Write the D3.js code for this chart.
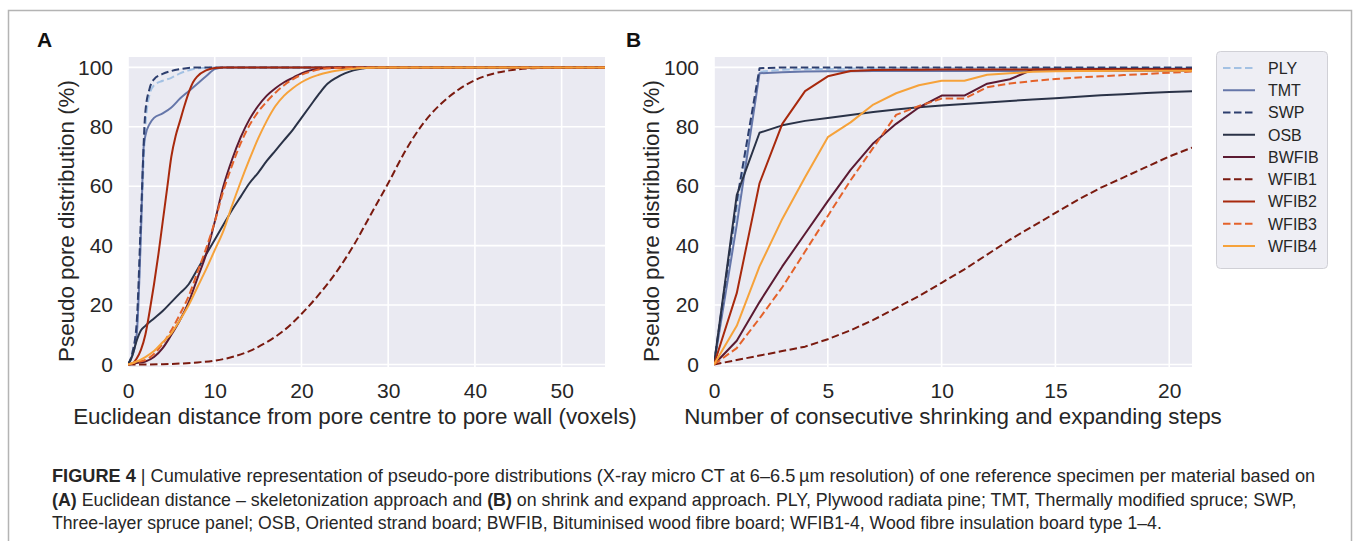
<!DOCTYPE html>
<html>
<head>
<meta charset="utf-8">
<script src="https://cdn.jsdelivr.net/npm/d3@7"></script>
<style>
  html, body { margin: 0; padding: 0; background: #fff; }
  svg { display: block; }
  text { font-family: "Liberation Sans", Arial, Helvetica, sans-serif; }
</style>
</head>
<body>
<svg id="fig" width="1356" height="541"></svg>
<script>
// ---- materials (legend order) ----
const materials = ["PLY", "TMT", "SWP", "OSB", "BWFIB", "WFIB1", "WFIB2", "WFIB3", "WFIB4"];
const colours   = ["#a3c1e3", "#6576a9", "#2d3e6e", "#2a3247", "#5b1a32", "#7a1a0f", "#a8290d", "#e4622a", "#f6a23a"];
const dashed    = [true, false, true, false, false, true, false, true, false];

// ---- panel A: Euclidean distance (voxels) vs cumulative share (%) ----
const PLY_A   = [[0,0],[0.5,3],[1,10],[1.5,45],[2,80],[2.5,91],[3,94],[4,95.5],[5,96.5],[6,98],[7,99],[8,99.7],[10,100],[55,100]];
const TMT_A   = [[0,0],[0.5,3],[1,10],[1.5,45],[1.8,73],[2,77],[2.5,81],[3,83],[4,84.5],[5,86.5],[6,89.5],[7,92],[8,94.5],[9,97],[10,99.4],[11,100],[55,100]];
const SWP_A   = [[0,0],[0.5,4],[1,14],[1.5,50],[2,85],[2.5,93],[3,96],[4,97.8],[5,98.8],[6,99.4],[8,100],[55,100]];
const OSB_A   = [[0,0],[0.5,3],[1,8],[1.5,11.5],[2,13],[3,15.5],[4,18],[5,21],[6,24],[7,27],[8,32],[9,37],[10,42],[11,47],[12,52],[13,56.5],[14,61],[15,64.5],[16,68.5],[17,72],[18,75.5],[19,79],[20,83],[21,87],[22,91],[23,94.5],[24,96.5],[25,98],[26,99],[27,99.6],[28,100],[55,100]];
const BWFIB_A = [[0,0],[1,0.5],[2,1],[3,2.5],[4,5.5],[5,10],[6,15],[7,21],[8,29],[9,37],[10,48],[11,60],[12,69],[13,76.5],[14,82.5],[15,87],[16,90.5],[17,93],[18,95],[19,96.5],[20,98],[21,99],[22,99.5],[24,100],[55,100]];
const WFIB1_A = [[0,0],[2,0],[4,0.1],[6,0.3],[8,0.7],[10,1.3],[12,2.5],[14,4.5],[16,7.5],[18,11.5],[20,17],[22,23.5],[24,31],[26,40],[28,50.5],[30,61],[32,72],[34,81],[36,87.5],[38,92.3],[40,95.7],[42,97.8],[44,99],[46,99.6],[48,99.9],[50,100],[55,100]];
const WFIB2_A = [[0,0],[0.5,0.3],[1,2],[1.5,5],[2,10],[2.5,18],[3,27],[3.5,37],[4,48],[4.5,59],[5,70],[5.5,77],[6,82],[6.5,87],[7,91.5],[7.5,95],[8,97],[9,99],[10,99.8],[11,100],[55,100]];
const WFIB3_A = [[0,0],[1,0.8],[2,1.5],[3,3.5],[4,7],[5,11.5],[6,17],[7,23],[8,31],[9,39],[10,48],[11,58.5],[12,67],[13,74.5],[14,80.5],[15,85],[16,88.5],[17,91.5],[18,94],[19,96],[20,97.5],[21,98.5],[22,99.3],[24,99.8],[26,100],[55,100]];
const WFIB4_A = [[0,0],[1,1],[2,2.5],[3,4.5],[4,7.5],[5,10.5],[6,15],[7,20],[8,26],[9,32],[10,38.5],[11,45],[12,53.5],[13,61.5],[14,69],[15,76],[16,82],[17,87],[18,90.5],[19,93],[20,95],[21,96.5],[22,97.5],[23,98.3],[24,98.9],[25,99.3],[27,99.8],[29,100],[55,100]];

// ---- panel B: shrink/expand steps vs cumulative share (%) ----
const stepsB  = [0,1,2,3,4,5,6,7,8,9,10,11,12,13,14,15,16,17,18,19,20,21];
const PLY_B   = [0,52,98.5,99.2,99.4,99.5,99.6,99.6,99.7,99.7,99.7,99.7,99.7,99.7,99.7,99.7,99.7,99.7,99.7,99.7,99.7,99.7];
const TMT_B   = [0,47,98,98.4,98.6,98.7,98.7,98.8,98.8,98.8,98.8,98.8,98.8,98.8,98.8,98.8,98.8,98.8,98.8,98.8,98.8,98.8];
const SWP_B   = [0,55,99.7,100,100,100,100,100,100,100,100,100,100,100,100,100,100,100,100,100,100,100];
const OSB_B   = [0,57,78,80.5,82,83,84,85,85.8,86.6,87.2,87.7,88.2,88.7,89.2,89.6,90.1,90.6,91,91.4,91.7,92];
const BWFIB_B = [0,8,21,33,44,55,65.5,74.5,81,86.5,90.5,90.5,94.5,96,99.3,99.4,99.4,99.5,99.5,99.5,99.5,99.5];
const WFIB1_B = [0,1.5,3,4.5,6,8.5,11.5,15,19,23,27.5,32,37,42,46.5,51,55.5,59.5,63,66.5,70,73];
const WFIB2_B = [0,24,61,81,92,97,98.8,99.1,99.2,99.2,99.3,99.3,99.3,99.3,99.3,99.3,99.3,99.3,99.3,99.3,99.3,99.3];
const WFIB3_B = [0,5.5,15.5,26,38,50,62,73,84,87,89.5,89.5,93.3,94.6,95.4,96.1,96.6,97,97.4,97.8,98.2,98.6];
const WFIB4_B = [0,13,33,49,63,76.5,81.5,87.5,91.3,94,95.5,95.5,97.5,98,98.5,98.7,98.8,98.8,98.9,98.9,98.9,98.9];

// ---- tick values ----
const yTicks  = [0, 20, 40, 60, 80, 100];
const xTicksA = [0, 10, 20, 30, 40, 50];
const xTicksB = [0, 5, 10, 15, 20];

const seriesA = [PLY_A, TMT_A, SWP_A, OSB_A, BWFIB_A, WFIB1_A, WFIB2_A, WFIB3_A, WFIB4_A];
const seriesB = [PLY_B, TMT_B, SWP_B, OSB_B, BWFIB_B, WFIB1_B, WFIB2_B, WFIB3_B, WFIB4_B]
  .map(vals => vals.map((v, i) => [stepsB[i], v]));

const svg = d3.select("#fig");
const DASH = "7.5,3.5";

// horizontal factor that makes a text span `width` px
function fitWidth(sel, width) {
  const w = sel.node().getComputedTextLength();
  return width / w;
}

// outer figure frame
svg.append("rect")
  .attr("x", 8.5).attr("y", 10.5).attr("width", 1343).attr("height", 545)
  .attr("fill", "none").attr("stroke", "#b4b4b4").attr("stroke-width", 1.5);

function panel(opts) {
  const { left, right, top, bottom, xDomain, xTicks, data, curve, letter, letterX,
          xLabel, xLabelX, xLabelW, yLabelX, id } = opts;
  const x = d3.scaleLinear().domain(xDomain).range([left, right]);
  const y = d3.scaleLinear().domain([-0.85, 103.5]).range([bottom, top]);
  const g = svg.append("g");

  g.append("rect").attr("x", left).attr("y", top)
    .attr("width", right - left).attr("height", bottom - top).attr("fill", "#eaeaf2");

  // white grid
  g.append("g").selectAll("line").data(xTicks).join("line")
    .attr("x1", d => x(d)).attr("x2", d => x(d)).attr("y1", top).attr("y2", bottom)
    .attr("stroke", "#fff").attr("stroke-width", 1.6);
  g.append("g").selectAll("line").data(yTicks).join("line")
    .attr("x1", left).attr("x2", right).attr("y1", d => y(d)).attr("y2", d => y(d))
    .attr("stroke", "#fff").attr("stroke-width", 1.6);

  // axes (labels only, no tick marks or spines)
  const ax = g.append("g").attr("transform", `translate(0,${bottom})`)
    .call(d3.axisBottom(x).tickValues(xTicks).tickSize(0).tickFormat(d3.format("d")));
  ax.select(".domain").remove();
  ax.selectAll("text").attr("y", 31).attr("dy", 0)
    .attr("font-size", 21).attr("fill", "#262626").attr("font-family", null);

  const ay = g.append("g").attr("transform", `translate(${left},0)`)
    .call(d3.axisLeft(y).tickValues(yTicks).tickSize(0).tickPadding(15).tickFormat(d3.format("d")));
  ay.select(".domain").remove();
  ay.selectAll("text").attr("font-size", 21).attr("fill", "#262626").attr("font-family", null);

  // curves
  g.append("clipPath").attr("id", id).append("rect")
    .attr("x", left).attr("y", top).attr("width", right - left).attr("height", bottom - top);
  const line = d3.line().x(d => x(d[0])).y(d => y(d[1])).curve(curve);
  g.append("g").attr("clip-path", `url(#${id})`)
    .selectAll("path").data(data).join("path")
    .attr("d", line)
    .attr("fill", "none")
    .attr("stroke", (d, i) => colours[i])
    .attr("stroke-width", 2)
    .attr("stroke-linejoin", "round")
    .attr("stroke-dasharray", (d, i) => dashed[i] ? DASH : null);

  // panel letter and axis titles
  svg.append("text").attr("x", letterX).attr("y", 47)
    .attr("font-size", 21).attr("font-weight", "bold").attr("fill", "#111").text(letter);

  const xl = svg.append("text").attr("text-anchor", "middle")
    .attr("font-size", 22).attr("fill", "#262626").text(xLabel);
  xl.attr("transform", `translate(${xLabelX},424) scale(${fitWidth(xl, xLabelW)},1)`);

  const yl = svg.append("text").attr("text-anchor", "middle")
    .attr("font-size", 22).attr("fill", "#262626").text("Pseudo pore distribution (%)");
  yl.attr("transform", `translate(${yLabelX},221) rotate(-90) scale(${fitWidth(yl, 282)},1)`);
}

panel({ id: "clipA", left: 128, right: 605, top: 57, bottom: 367, xDomain: [0, 55], xTicks: xTicksA,
  data: seriesA, curve: d3.curveMonotoneX, letter: "A", letterX: 37,
  xLabel: "Euclidean distance from pore centre to pore wall (voxels)", xLabelX: 355, xLabelW: 564, yLabelX: 74 });

panel({ id: "clipB", left: 714, right: 1192, top: 57, bottom: 367, xDomain: [0, 21], xTicks: xTicksB,
  data: seriesB, curve: d3.curveLinear, letter: "B", letterX: 626,
  xLabel: "Number of consecutive shrinking and expanding steps", xLabelX: 953, xLabelW: 538, yLabelX: 659 });

// legend
const leg = svg.append("g");
leg.append("rect").attr("x", 1216.5).attr("y", 51.5).attr("width", 111).attr("height", 217)
  .attr("rx", 4).attr("fill", "#eeeef4").attr("stroke", "#d0d0d6").attr("stroke-width", 1);
const rowY = d3.scaleLinear().domain([0, materials.length - 1]).range([68, 246]);
const rows = leg.selectAll("g.row").data(materials).join("g").attr("class", "row")
  .attr("transform", (d, i) => `translate(0,${rowY(i)})`);
rows.append("line").attr("x1", 1223).attr("x2", 1255).attr("y1", 0).attr("y2", 0)
  .attr("stroke", (d, i) => colours[i]).attr("stroke-width", 2)
  .attr("stroke-dasharray", (d, i) => dashed[i] ? DASH : null);
rows.append("text").attr("x", 1268).attr("y", 0).attr("dy", "0.36em")
  .attr("font-size", 16).attr("fill", "#262626").text(d => d);

// caption
const captionLines = [
  [["FIGURE 4", true], [" | ", false], ["Cumulative representation of pseudo-pore distributions (X-ray micro CT at 6–6.5\u2009µm resolution) of one reference specimen per material based on", false]],
  [["(A)", true], [" Euclidean distance – skeletonization approach and ", false], ["(B)", true], [" on shrink and expand approach. PLY, Plywood radiata pine; TMT, Thermally modified spruce; SWP,", false]],
  [["Three-layer spruce panel; OSB, Oriented strand board; BWFIB, Bituminised wood fibre board; WFIB1-4, Wood fibre insulation board type 1–4.", false]]
];
const captionWidths = [1264, 1245, 1110];
const captionBase = [482, 506, 529];
captionLines.forEach((parts, i) => {
  const t = svg.append("text").attr("font-size", 17.5).attr("fill", "#262626");
  parts.forEach(([s, b]) => t.append("tspan").attr("font-weight", b ? "bold" : null).text(s));
  t.attr("transform", `translate(52,${captionBase[i]}) scale(${fitWidth(t, captionWidths[i])},1)`);
});
</script>
</body>
</html>
